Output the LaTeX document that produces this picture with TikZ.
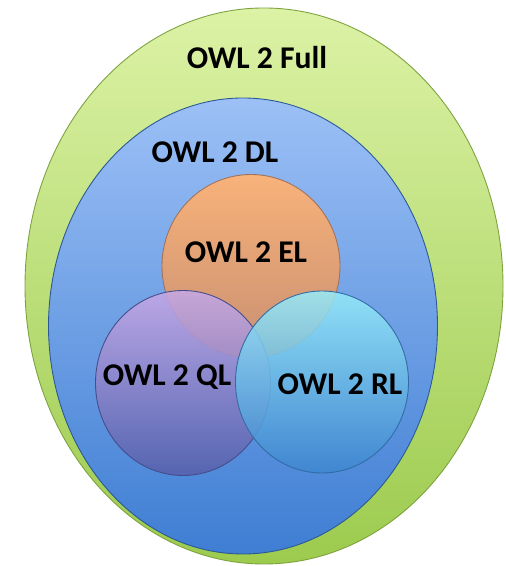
\documentclass[tikz,border=0pt]{standalone}
\usepackage{fontspec}
\setmainfont{Carlito}
\usetikzlibrary{shapes.geometric, positioning}

\definecolor{fullTop}{HTML}{DCF2A6}
\definecolor{fullBot}{HTML}{9CCB4E}
\definecolor{dlTop}{HTML}{9CC0F6}
\definecolor{dlBot}{HTML}{3F7ED3}
\definecolor{elTop}{HTML}{F8B27A}
\definecolor{elBot}{HTML}{C88F72}
\definecolor{qlTop}{HTML}{C6A8E6}
\definecolor{qlBot}{HTML}{5660AC}
\definecolor{rlTop}{HTML}{96ECFA}
\definecolor{rlBot}{HTML}{3E86D0}

\begin{document}
\begin{tikzpicture}[
  region/.style={ellipse,inner sep=0pt,line width=0.5pt},
  lbl/.style={font=\bfseries\fontsize{18}{20}\selectfont,inner sep=1pt}
]
  \useasboundingbox (0,0) rectangle (10.1,11.32);
  % nested profiles
  \node[region,draw=fullBot!80!black,top color=fullTop,bottom color=fullBot,
        minimum width=9.56cm,minimum height=11.12cm](full) at (5.28,5.60) {};
  \node[region,draw=dlBot!70!black,top color=dlTop,bottom color=dlBot,
        minimum width=7.78cm,minimum height=9.12cm](dl) at (4.86,4.80) {};
  \node[region,draw=elBot!80!black,top color=elTop,bottom color=elBot,
        minimum width=3.56cm,minimum height=3.66cm](el) at (5.02,6.00) {};
  \node[region,draw=qlBot!80!black,top color=qlTop,bottom color=qlBot,fill opacity=0.88,
        minimum width=3.50cm,minimum height=3.70cm](ql) at (3.66,3.66) {};
  \node[region,draw=rlBot!80!black,top color=rlTop,bottom color=rlBot,fill opacity=0.85,
        minimum width=3.46cm,minimum height=3.64cm](rl) at (6.44,3.68) {};
  % labels
  \node[lbl](fullLbl) at (5.14,10.16) {OWL 2 Full};
  \node[lbl](dlLbl) at (4.30,8.28) {OWL 2 DL};
  \node[lbl](elLbl) at (4.92,6.28) {OWL 2 EL};
  \node[lbl](qlLbl) at (3.34,3.78) {OWL 2 QL};
  \node[lbl](rlLbl) at (6.80,3.64) {OWL 2 RL};
\end{tikzpicture}
\end{document}
